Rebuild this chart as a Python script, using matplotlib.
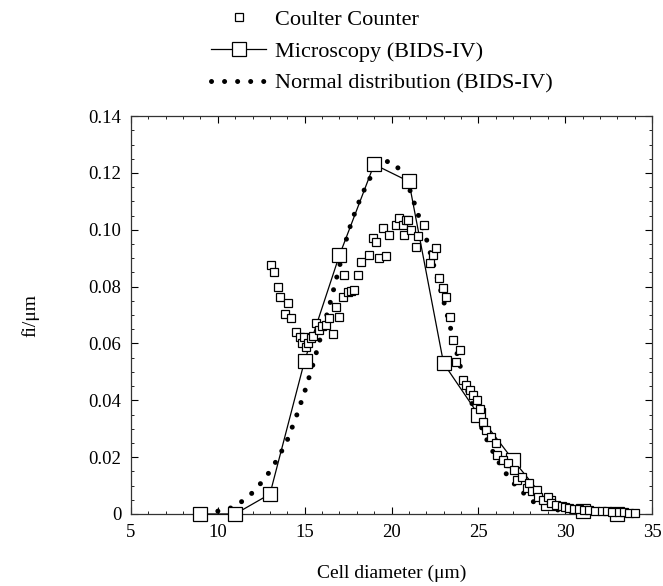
import numpy as np
import matplotlib
matplotlib.use("Agg")
import matplotlib.pyplot as plt
from matplotlib.lines import Line2D
from matplotlib.ticker import MultipleLocator, FuncFormatter

# Coulter Counter
coulter_x = [13.07, 13.26, 13.46, 13.60, 13.84, 14.03, 14.20, 14.48, 14.73, 14.87,
             14.96, 15.06, 15.20, 15.35, 15.50, 15.64, 15.83, 16.00, 16.20, 16.40,
             16.64, 16.80, 17.00, 17.18, 17.27, 17.47, 17.66, 17.85, 18.05, 18.24,
             18.72, 18.91, 19.10, 19.29, 19.49, 19.68, 19.87, 20.26, 20.45, 20.65,
             20.74, 20.84, 20.94, 21.13, 21.40, 21.51, 21.90, 22.19, 22.38, 22.57,
             22.76, 22.96, 23.15, 23.34, 23.54, 23.73, 23.92, 24.10, 24.30, 24.50,
             24.70, 24.90, 25.10, 25.27, 25.46, 25.75, 26.04, 26.10, 26.40, 26.70,
             27.07, 27.20, 27.50, 27.80, 27.90, 28.10, 28.35, 28.45, 28.70, 29.00,
             29.20, 29.50, 29.80, 30.00, 30.20, 30.50, 30.80, 31.10, 31.40, 31.70,
             32.10, 32.40, 32.70, 33.10, 33.40, 33.70, 34.00]
coulter_y = [0.0876, 0.0852, 0.0800, 0.0763, 0.0703, 0.0742, 0.0690, 0.0640, 0.0624, 0.0600,
             0.0624, 0.0589, 0.0600, 0.0618, 0.0625, 0.0673, 0.0647, 0.0660, 0.0665, 0.0688,
             0.0633, 0.0730, 0.0694, 0.0765, 0.0840, 0.0782, 0.0786, 0.0788, 0.0840, 0.0888,
             0.0910, 0.0970, 0.0958, 0.0899, 0.1005, 0.0906, 0.0980, 0.1016, 0.1040, 0.1016,
             0.0980, 0.1034, 0.1034, 0.0999, 0.0940, 0.0977, 0.1016, 0.0882, 0.0910, 0.0935,
             0.0830, 0.0794, 0.0764, 0.0694, 0.0612, 0.0536, 0.0577, 0.0470, 0.0454, 0.0436,
             0.0419, 0.0400, 0.0370, 0.0325, 0.0295, 0.0272, 0.0249, 0.0207, 0.0190, 0.0180,
             0.0155, 0.0120, 0.0131, 0.0090, 0.0108, 0.0080, 0.0084, 0.0060, 0.0050, 0.0060,
             0.0040, 0.0030, 0.0028, 0.0025, 0.0020, 0.0018, 0.0016, 0.0014, 0.0013, 0.0012,
             0.0010, 0.0009, 0.0008, 0.0007, 0.0006, 0.0005, 0.0004]

# Microscopy (BIDS-IV)
micro_x = [9, 11, 13, 15, 17, 19, 21, 23, 25, 27, 29, 31, 33]
micro_y = [0.000, 0.000, 0.007, 0.054, 0.091, 0.123, 0.117, 0.053, 0.035, 0.019, 0.004, 0.001, 0.000]

# Normal distribution (BIDS-IV)
normal_x = [10, 11, 12, 12.5, 13, 13.5, 14, 14.5, 15, 15.5, 16, 16.5, 17, 17.5, 18, 18.5,
            19, 19.5, 20, 20.5, 21, 21.5, 22, 22.5, 23, 23.5, 24, 24.5, 25, 25.5, 26,
            26.5, 27, 27.5, 28, 28.5, 29, 30, 31, 32]
normal_y = [0.001, 0.0025, 0.0075, 0.011, 0.015, 0.020, 0.026, 0.034, 0.043, 0.053, 0.064,
            0.075, 0.087, 0.099, 0.108, 0.115, 0.121, 0.124, 0.124, 0.121, 0.115, 0.106,
            0.097, 0.086, 0.075, 0.063, 0.051, 0.041, 0.033, 0.026, 0.020, 0.015, 0.011,
            0.008, 0.005, 0.003, 0.002, 0.001, 0.0005, 0.0002]

serif = "Liberation Serif"
plt.rcParams['font.family'] = serif

fig = plt.figure(figsize=(6.63, 5.86), dpi=100)
ax = fig.add_axes([0.1976, 0.1229, 0.7858, 0.679])

dot_style = dict(linestyle=(0, (0.01, 2.6)), linewidth=3.6, color='black',
                 dash_capstyle='round')

ax.plot(normal_x, normal_y, **dot_style, clip_on=False, zorder=2)
ax.plot(micro_x, micro_y, color='black', linewidth=0.9, marker='s', markersize=10,
        markerfacecolor='white', markeredgecolor='black', markeredgewidth=0.9,
        clip_on=False, zorder=3)
ax.plot(coulter_x, coulter_y, linestyle='none', marker='s', markersize=6,
        markerfacecolor='white', markeredgecolor='black', markeredgewidth=0.9,
        clip_on=False, zorder=4)

ax.set_xlim(5, 35)
ax.set_ylim(0, 0.14)
ax.xaxis.set_major_locator(MultipleLocator(5))
ax.xaxis.set_minor_locator(MultipleLocator(1))
ax.yaxis.set_major_locator(MultipleLocator(0.02))
ax.yaxis.set_minor_locator(MultipleLocator(0.005))
ax.yaxis.set_major_formatter(FuncFormatter(lambda v, p: '0' if abs(v) < 1e-9 else f'{v:.2f}'))
ax.tick_params(which='both', direction='in', top=True, right=True, labelsize=13.5, pad=7)
ax.tick_params(which='major', length=5, width=0.8)
ax.tick_params(which='minor', length=2.5, width=0.6)
for s in ax.spines.values():
    s.set_linewidth(0.9)
    s.set_color('#333333')

ax.set_xlabel('Cell diameter (μm)', fontsize=14, labelpad=17)
ax.set_ylabel('fi/μm', fontsize=14, labelpad=35)

handles = [
    Line2D([], [], linestyle='none', marker='s', markersize=6, markerfacecolor='white',
           markeredgecolor='black', markeredgewidth=0.9),
    Line2D([], [], color='black', linewidth=0.9, marker='s', markersize=10,
           markerfacecolor='white', markeredgecolor='black', markeredgewidth=0.9),
    Line2D([], [], **dot_style),
]
labels = ['Coulter Counter', 'Microscopy (BIDS-IV)', 'Normal distribution (BIDS-IV)']
fig.legend(handles, labels, loc='upper left', bbox_to_anchor=(0.288, 1.018),
           frameon=False, fontsize=16, handlelength=2.5, handletextpad=0.4,
           labelspacing=0.5)

fig.savefig('out.png', dpi=100)
